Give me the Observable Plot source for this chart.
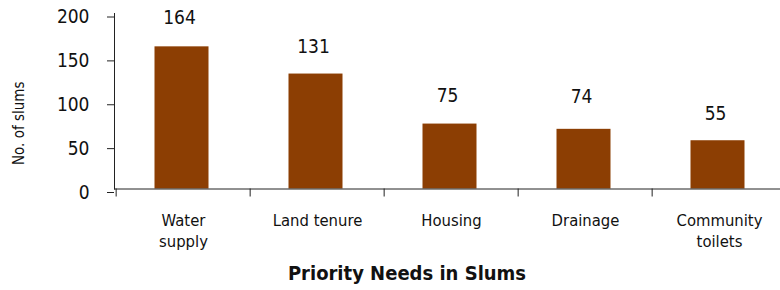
<!DOCTYPE html>
<html><head><meta charset="utf-8">
<script src="https://cdn.jsdelivr.net/npm/d3@7"></script>
<script src="https://cdn.jsdelivr.net/npm/@observablehq/plot@0.6"></script>
<style>
body{margin:0;background:#fff;}
#wrap{width:780px;font-family:"Liberation Sans Narrow","DejaVu Sans Condensed","Arial Narrow",sans-serif;color:#111;}
#title{width:780px;box-sizing:border-box;padding-left:34px;padding-top:6px;text-align:center;font-weight:bold;font-size:20px;line-height:34px;height:34px;}
</style></head><body>
<div id="wrap"><div id="chart"></div><div id="title">Priority Needs in Slums</div></div>
<script>
const categories = ["Water supply","Land tenure","Housing","Drainage","Community toilets"];
const tickLabels = ["Water\nsupply","Land tenure","Housing","Drainage","Community\ntoilets"];
const barValues = [162,131,74,68,55];
const labelValues = [164,131,75,74,55];
const yTicks = [0,50,100,150,200];
const yLabel = "No. of slums";

const data = categories.map((c,i)=>({category:c, tick:tickLabels[i], bar:barValues[i], label:labelValues[i]}));
const font = '"Liberation Sans Narrow","DejaVu Sans Condensed","Arial Narrow",sans-serif';
const step = (787.5-114)/5;

const plot = Plot.plot({
  width:780, height:250,
  marginTop:13, marginBottom:61.5, marginLeft:114, marginRight:0,
  style:{fontFamily:font, fontSize:"19px", color:"#111", background:"white", overflow:"visible"},
  x:{type:"band", domain:categories, range:[114,787.5], paddingInner:0.594, paddingOuter:0.297, axis:null},
  y:{domain:[0,200], axis:null},
  marks:[
    Plot.barY(data, {x:"category", y:"bar", fill:"#8c3e03", dx:-1.5}),
    Plot.frame({anchor:"left", stroke:"#222"}),
    Plot.ruleY([0], {stroke:"#222"}),
    Plot.ruleX(data, {x:"category", y1:0, y2:0, insetBottom:-8, dx:-step/2, stroke:"#222"}),
    Plot.axisY({ticks:yTicks, tickSize:7, tickPadding:18, fontSize:19, dy:3.5, label:null, stroke:"#222", tickFormat:d=>String(d)}),
    Plot.text(data, {x:"category", y:"label", text:d=>String(d.label), dy:-27, dx:-4, fontSize:19, fill:"#111"}),
    Plot.text(data, {x:"category", y:0, text:"tick", lineAnchor:"top", dy:21.5, fontSize:16.5, lineHeight:1.3, fill:"#111"}),
    Plot.text([yLabel], {frameAnchor:"left", textAnchor:"middle", rotate:-90, dx:-95, dy:22, fontSize:15, fill:"#111"})
  ]
});
document.getElementById("chart").appendChild(plot);
</script>
</body></html>
